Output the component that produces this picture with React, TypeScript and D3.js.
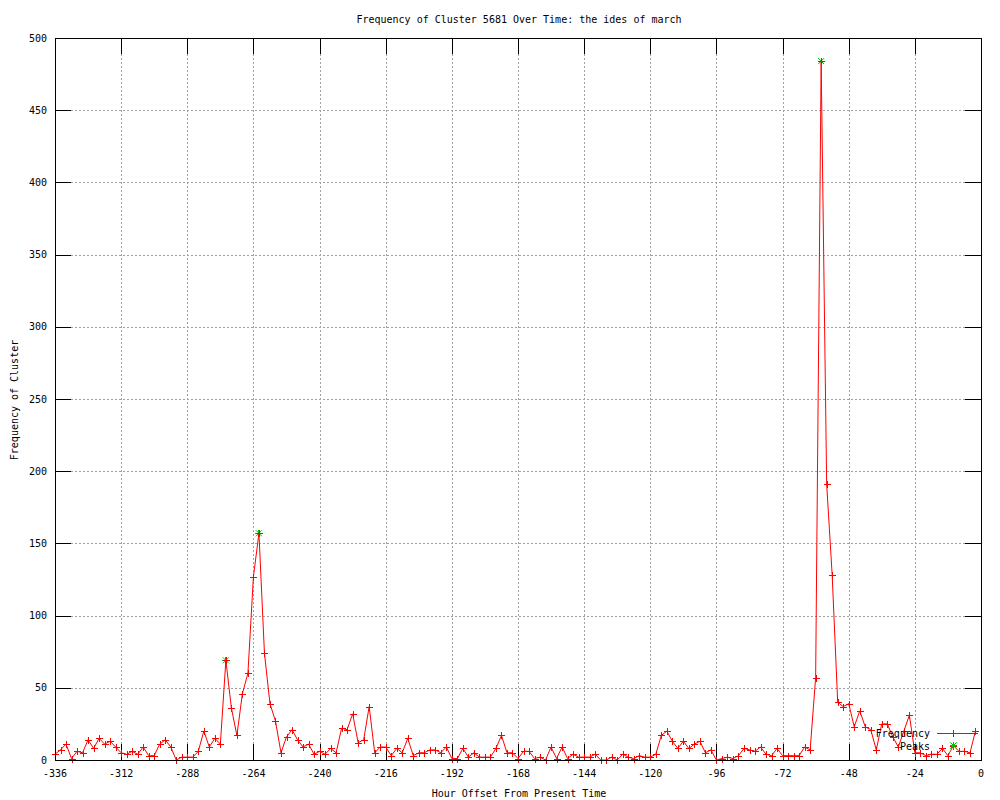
import React, { useEffect } from "react";
import * as d3 from "d3";

const title = "Frequency of Cluster 5681 Over Time: the ides of march";
const xLabel = "Hour Offset From Present Time";
const yLabel = "Frequency of Cluster";

const startHour = -336;
const hourStep = 2;
const frequency = [
  4, 7, 11, 1, 6, 5, 14, 8, 15, 11, 13, 9, 5, 4, 6, 4, 9, 3, 3, 11, 14,
  9, 0, 2, 2, 2, 6, 20, 9, 15, 11, 69, 36, 17, 46, 60, 127, 157, 74, 39, 27, 5,
  16, 21, 14, 9, 11, 4, 6, 4, 8, 5, 22, 21, 32, 12, 14, 37, 5, 9, 9, 3, 8, 5,
  15, 3, 5, 5, 7, 7, 5, 9, 1, 1, 8, 2, 5, 2, 2, 2, 8, 17, 5, 5, 1, 6,
  6, 1, 2, 0, 9, 1, 9, 1, 4, 2, 2, 2, 4, 0, 0, 2, 0, 4, 2, 1, 3, 2,
  2, 4, 17, 20, 13, 8, 13, 8, 11, 13, 5, 7, 0, 1, 2, 1, 3, 8, 7, 6, 9, 4,
  3, 8, 3, 3, 3, 3, 9, 7, 57, 484, 191, 128, 40, 37, 39, 23, 34, 23, 21, 7,
  25, 25, 16, 9, 20, 31, 5, 5, 3, 4, 4, 8, 3, 10, 6, 6, 5, 20,
];
const hours = frequency.map((_, i) => startHour + hourStep * i);

const peakHours = [-274, -262, -58, -10];
const peakValues = [69, 157, 484, 10];

const xTicks = [-336, -312, -288, -264, -240, -216, -192, -168, -144, -120, -96, -72, -48, -24, 0];
const yTicks = [0, 50, 100, 150, 200, 250, 300, 350, 400, 450, 500];

const FONT = "'DejaVu Sans Mono', 'Liberation Mono', monospace";

export default function App() {
  useEffect(() => {
    document.body.style.margin = "0";
  }, []);
  const W = 1000, H = 800;
  const L = 55, R = 981, T = 38, B = 760;
  const x = d3.scaleLinear().domain([-336, 0]).range([L, R]);
  const y = d3.scaleLinear().domain([0, 500]).range([B, T]);
  const line = d3.line<number>().x((_, i) => x(hours[i])).y((d) => y(d));
  const tick = 16;
  const ms = 3.5;
  const plus = (cx: number, cy: number, color: string, key: string) => (
    <g key={key} stroke={color} strokeWidth={1} shapeRendering="crispEdges">
      <line x1={cx - ms} x2={cx + ms} y1={cy} y2={cy} />
      <line x1={cx} x2={cx} y1={cy - ms} y2={cy + ms} />
    </g>
  );
  const star = (cx: number, cy: number, key: string) => (
    <g key={key} stroke="#00c000" strokeWidth={1}>
      <line x1={cx - ms} x2={cx + ms} y1={cy} y2={cy} shapeRendering="crispEdges" />
      <line x1={cx} x2={cx} y1={cy - ms} y2={cy + ms} shapeRendering="crispEdges" />
      <line x1={cx - 3} x2={cx + 3} y1={cy - 3} y2={cy + 3} />
      <line x1={cx - 3} x2={cx + 3} y1={cy + 3} y2={cy - 3} />
    </g>
  );
  return (
    <svg width={W} height={H} style={{ display: "block", background: "#fff" }} fontFamily={FONT} fontSize={10}>
      <rect x={0} y={0} width={W} height={H} fill="#fff" />
      {/* grid */}
      <g stroke="#a0a0a0" strokeWidth={1} strokeDasharray="2,2" shapeRendering="crispEdges">
        {xTicks.slice(1, -1).map((t) => (
          <line key={"gx" + t} x1={Math.round(x(t)) + 0.5} x2={Math.round(x(t)) + 0.5} y1={T} y2={B} />
        ))}
        {yTicks.slice(1, -1).map((t) => (
          <line key={"gy" + t} x1={L} x2={R} y1={Math.round(y(t)) + 0.5} y2={Math.round(y(t)) + 0.5} />
        ))}
      </g>
      {/* ticks */}
      <g stroke="#000" strokeWidth={1} shapeRendering="crispEdges">
        {xTicks.map((t) => {
          const px = Math.round(x(t)) + 0.5;
          return (
            <g key={"tx" + t}>
              <line x1={px} x2={px} y1={B} y2={B - tick} />
              <line x1={px} x2={px} y1={T} y2={T + tick} />
            </g>
          );
        })}
        {yTicks.map((t) => {
          const py = Math.round(y(t)) + 0.5;
          return (
            <g key={"ty" + t}>
              <line x1={L} x2={L + tick} y1={py} y2={py} />
              <line x1={R} x2={R - tick} y1={py} y2={py} />
            </g>
          );
        })}
      </g>
      {/* labels */}
      <g fill="#000">
        {xTicks.map((t) => (
          <text key={"lx" + t} x={x(t)} y={777} textAnchor="middle">{t}</text>
        ))}
        {yTicks.map((t) => (
          <text key={"ly" + t} x={47} y={y(t) + 3.5} textAnchor="end">{t}</text>
        ))}
        <text x={519} y={23} textAnchor="middle">{title}</text>
        <text x={519} y={797} textAnchor="middle">{xLabel}</text>
        <text transform="translate(18,400) rotate(-90)" textAnchor="middle">{yLabel}</text>
      </g>
      {/* data */}
      {peakHours.map((h, i) => star(x(h), y(peakValues[i]), "pk" + i))}
      <path d={line(frequency) || ""} fill="none" stroke="#ff0000" strokeWidth={1} />
      {frequency.map((v, i) => plus(Math.round(x(hours[i])) + 0.5, Math.round(y(v)) + 0.5, "#ff0000", "m" + i))}
      {/* legend */}
      <g fill="#000">
        <text x={930} y={737} textAnchor="end">Frequency</text>
        <text x={930} y={750} textAnchor="end">Peaks</text>
      </g>
      <line x1={937} x2={978} y1={733.5} y2={733.5} stroke="#ff0000" strokeWidth={1} shapeRendering="crispEdges" />
      {plus(953.5, 733.5, "#ff0000", "lg1")}
      {star(953.5, 745.5, "lg2")}
      {/* border */}
      <rect x={L + 0.5} y={T + 0.5} width={R - L} height={B - T} fill="none" stroke="#000" strokeWidth={1} shapeRendering="crispEdges" />
    </svg>
  );
}
